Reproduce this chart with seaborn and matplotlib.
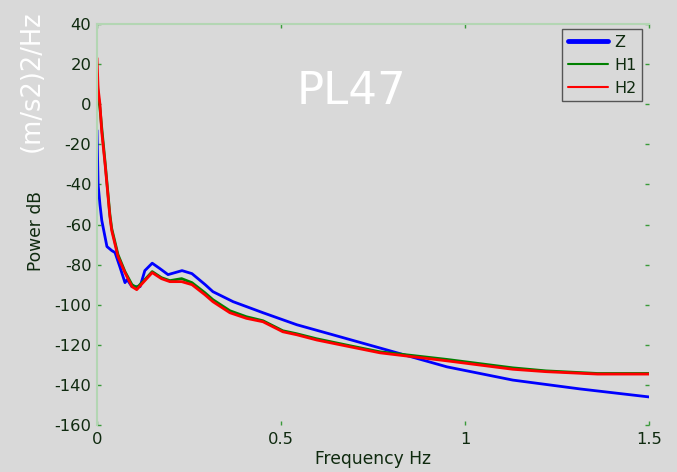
import numpy as np
import pandas as pd
import matplotlib
matplotlib.use("Agg")
import matplotlib.pyplot as plt
from matplotlib.lines import Line2D
import seaborn as sns

# ---- data ----
freq_z = [0.000, 0.003, 0.008, 0.013, 0.027, 0.040, 0.049, 0.062, 0.076, 0.082,
          0.095, 0.117, 0.130, 0.150, 0.171, 0.193, 0.231, 0.258, 0.294, 0.315,
          0.370, 0.451, 0.543, 0.633, 0.769, 0.951, 1.130, 1.312, 1.500]
power_z = [-13, -40, -50, -58, -71, -73, -74, -81, -89, -87.5,
           -91, -91, -83, -79.3, -82, -85, -83, -84.5, -90, -93.5,
           -98.5, -104, -110, -114.6, -121.6, -131, -137.6, -142, -146]

freq_h = [0.000, 0.003, 0.008, 0.013, 0.022, 0.030, 0.035, 0.040, 0.057, 0.076,
          0.095, 0.108, 0.125, 0.150, 0.175, 0.198, 0.230, 0.258, 0.293, 0.315,
          0.361, 0.406, 0.451, 0.505, 0.543, 0.597, 0.688, 0.769, 0.951, 1.130,
          1.220, 1.360, 1.500]
power_h1 = [15, 5, -2, -12, -29, -45, -55, -62, -75, -83.5,
            -90, -91.5, -88.5, -83.5, -86.5, -88, -87, -89, -94, -97.5,
            -103, -106, -108, -113, -114.5, -117, -120.5, -123.5, -127.3, -131.5,
            -133, -134.3, -134.3]
power_h2 = [23, 8, 0, -14, -30, -46, -56, -63, -76, -84,
            -91, -92.5, -89, -84, -87, -88.5, -88.5, -90, -95, -98.5,
            -104, -106.8, -108.5, -113.5, -115, -117.6, -121, -124, -128, -132.2,
            -133.4, -134.6, -134.6]

series_names = ["Z", "H1", "H2"]
series_colors = ["#0000ff", "#008000", "#ff0000"]
y_ticks = [40, 20, 0, -20, -40, -60, -80, -100, -120, -140, -160]
x_ticks = [0, 0.5, 1, 1.5]
x_tick_labels = ["0", "0.5", "1", "1.5"]
title_text = "PL47"
unit_text = "(m/s2)2/Hz"

df = pd.concat([
    pd.DataFrame({"f": freq_z, "p": power_z, "ch": "Z"}),
    pd.DataFrame({"f": freq_h, "p": power_h1, "ch": "H1"}),
    pd.DataFrame({"f": freq_h, "p": power_h2, "ch": "H2"}),
], ignore_index=True)

sns.set_style("white")
plt.rcParams["font.family"] = ["DejaVu Sans"]
plt.rcParams["axes.unicode_minus"] = False

bg = "#d9d9d9"
txt = "#0f2a0f"
fig = plt.figure(figsize=(6.77, 4.72), dpi=100, facecolor=bg)
ax = fig.add_axes([97/677, 1 - 425/472, (649-97)/677, (425-24)/472])
ax.set_facecolor(bg)

sns.lineplot(data=df, x="f", y="p", hue="ch", hue_order=series_names,
             palette=dict(zip(series_names, series_colors)),
             estimator=None, sort=False, linewidth=2.0, legend=False, ax=ax)

ax.set_xlim(0, 1.5)
ax.set_ylim(-160, 40)
ax.set_yticks(y_ticks)
ax.set_yticklabels([str(v) for v in y_ticks])
ax.set_xticks(x_ticks)
ax.set_xticklabels(x_tick_labels)

for s in ["bottom", "right"]:
    ax.spines[s].set_visible(False)
for s in ["top", "left"]:
    ax.spines[s].set_color("#b3d6b3")
    ax.spines[s].set_linewidth(1.5)

ax.tick_params(axis="both", which="both", direction="in", length=3, width=1,
               color="#3a9a3a", labelsize=11.8, labelcolor=txt,
               top=True, right=True, left=True, bottom=True)
ax.tick_params(axis="x", pad=5)
ax.tick_params(axis="y", pad=4)

ax.set_xlabel("Frequency Hz", fontsize=12.3, color=txt, labelpad=2)
ax.set_ylabel("Power dB", fontsize=12.3, color=txt, labelpad=9)
ax.yaxis.set_label_coords(-0.095, 0.484)

fig.text(352/677, 1 - 91/472, title_text, color="white", fontsize=32.5,
         ha="center", va="center")
fig.text(32/677, 1 - 81/472, unit_text, color="white", fontsize=18.5,
         ha="center", va="center", rotation=90)

handles = [Line2D([], [], color=series_colors[0], lw=3.5),
           Line2D([], [], color=series_colors[1], lw=1.5),
           Line2D([], [], color=series_colors[2], lw=1.5)]
leg = ax.legend(handles, series_names, loc="upper right",
                bbox_to_anchor=(642/677, 1 - 29/472), bbox_transform=fig.transFigure,
                fontsize=11.5, frameon=True, fancybox=False, framealpha=1,
                facecolor=bg, edgecolor="#555555", borderpad=0.35,
                labelspacing=0.5, handlelength=2.5, handletextpad=0.4,
                borderaxespad=0)
leg.get_frame().set_linewidth(1.0)
for t in leg.get_texts():
    t.set_color(txt)

fig.savefig("out.png", dpi=100, facecolor=bg)
